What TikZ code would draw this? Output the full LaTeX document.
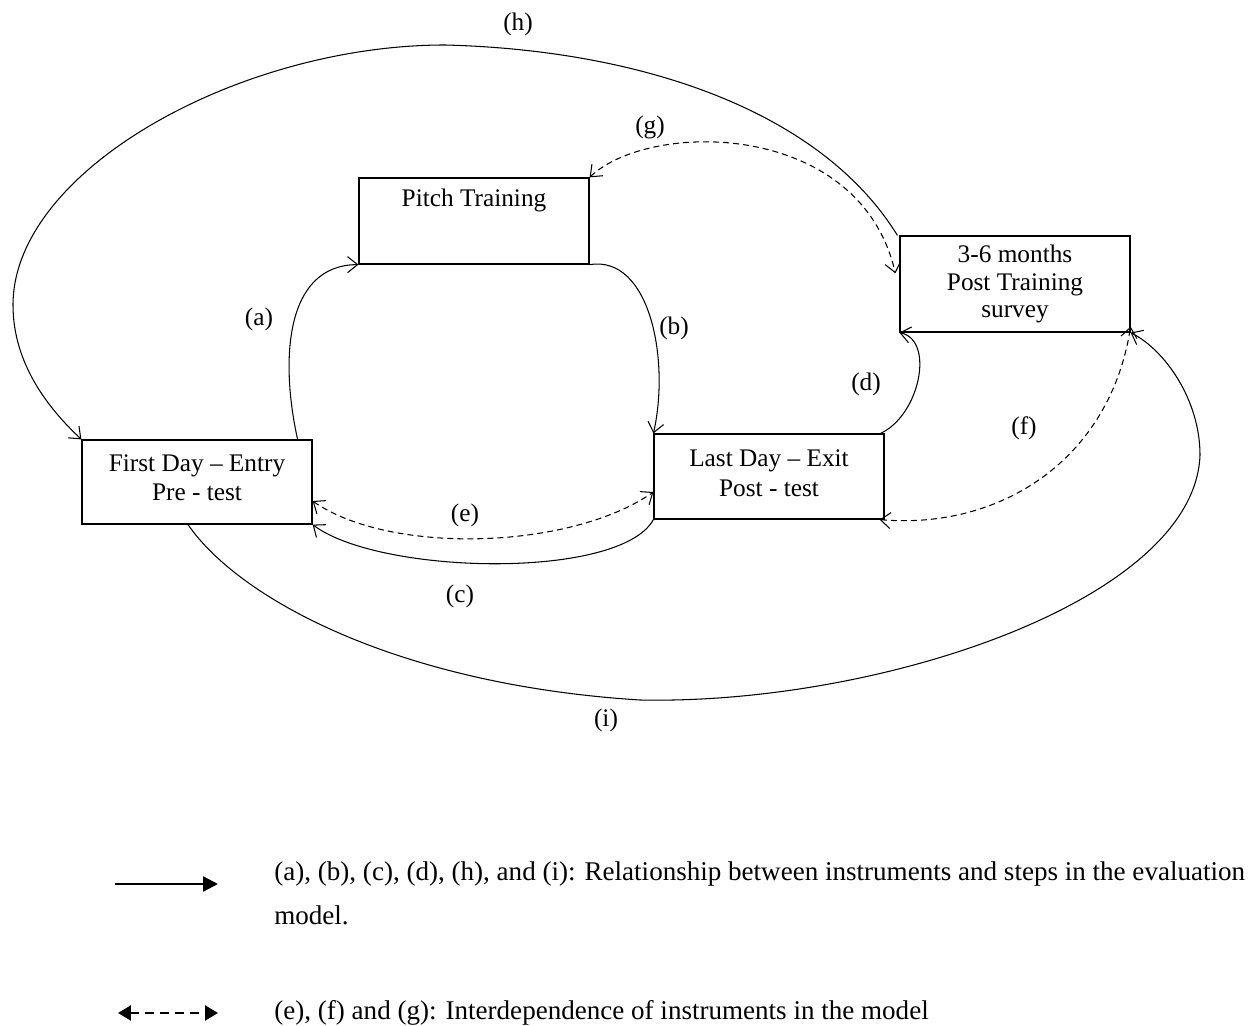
\documentclass[tikz,border=0pt]{standalone}
\usepackage{fontspec}
\setmainfont{Liberation Serif}
\usetikzlibrary{arrows.meta}

\begin{document}
\begin{tikzpicture}[x=0.02cm, y=-0.02cm,
	every node/.style={font=\fontsize{14.4}{17}\selectfont},
	stagebox/.style={draw, line width=0.7pt, align=center, minimum width=4.6cm, minimum height=1.7cm, inner sep=2pt},
	link/.style={line width=0.6pt, -{Straight Barb[length=2mm,width=3.2mm]}},
	mutual/.style={line width=0.6pt, dash pattern=on 3.4pt off 2.3pt, {Straight Barb[length=2mm,width=3.2mm]}-{Straight Barb[length=2mm,width=3.2mm]}},
	keytext/.style={inner sep=0pt, align=left, font=\fontsize{15.4}{25.5}\selectfont}]
	\useasboundingbox (0,0) rectangle (1254,1026);
	% stages of the evaluation model
	\node[stagebox, minimum height=1.72cm, text depth=26pt] (pitch) at (474,221) {Pitch Training};
	\node[stagebox, minimum height=1.68cm, text depth=5pt] (first) at (197,482) {First Day -- Entry\\Pre - test};
	\node[stagebox, text depth=4pt] (last) at (769,476.5) {Last Day -- Exit\\Post - test};
	\node[stagebox, minimum height=1.92cm, font=\fontsize{14.4}{15.6}\selectfont] (survey) at (1015,284) {3-6 months\\Post Training\\survey};
	% relationships
	\draw[link] ([xshift=-0.3cm]first.north east) .. controls (280,360) and (285,265) .. (pitch.south west);
	\draw[link] (pitch.south east) .. controls (650,255) and (670,360) .. (last.north west);
	\draw[link] (last.south west) .. controls (620,580) and (380,575) .. (first.south east);
	\draw[link] ([xshift=-0.08cm]last.north east) .. controls (920,415) and (935,340) .. (survey.south west);
	\draw[link] ([xshift=-0.04cm]survey.north west) .. controls (820,110) and (640,50) .. (445,45)
		.. controls (240,45) and (13,170) .. (13,305) .. controls (13,365) and (50,410) .. (first.north west);
	\draw[link] ([xshift=-0.18cm]first.south) .. controls (240,600) and (400,685) .. (640,700)
		.. controls (880,705) and (1195,600) .. (1200,455) .. controls (1200,400) and (1165,350) .. (survey.south east);
	% interdependence
	\draw[mutual] ([yshift=-0.38cm]first.east) .. controls (390,555) and (570,550) .. ([yshift=-0.31cm]last.west);
	\draw[mutual] ([xshift=-0.1cm]last.south east) .. controls (1000,530) and (1110,460) .. ([yshift=0.12cm]survey.south east);
	\draw[mutual] (pitch.north east) .. controls (650,120) and (860,120) .. ([shift={(-0.08cm,-0.76cm)}]survey.north west);
	% labels
	\node (tagh) at (518,24) {(h)};
	\node (tagg) at (650,127) {(g)};
	\node (taga) at (259,319) {(a)};
	\node (tagb) at (674,328) {(b)};
	\node (tagd) at (866,384) {(d)};
	\node (tagf) at (1024,428) {(f)};
	\node (tage) at (465,515) {(e)};
	\node (tagc) at (460,596) {(c)};
	\node (tagi) at (606,720) {(i)};
	% key
	\coordinate (solidA) at (115,884);
	\coordinate (solidB) at (218,884);
	\draw[line width=1.4pt, -{Triangle[length=3mm,width=3mm]}] (solidA) -- (solidB);
	\node[keytext, anchor=north west] (keysolid) at (274,861) {(a), (b), (c), (d), (h), and (i): Relationship between instruments and steps in the evaluation\\model.};
	\coordinate (dashA) at (118,1013);
	\coordinate (dashB) at (218,1013);
	\draw[line width=1.3pt, dash pattern=on 5pt off 3.5pt, {Triangle[length=2.6mm,width=3mm]}-{Triangle[length=2.6mm,width=3mm]}] (dashA) -- (dashB);
	\node[keytext, anchor=west] (keydash) at (274,1013) {(e), (f) and (g): Interdependence of instruments in the model};
\end{tikzpicture}
\end{document}
